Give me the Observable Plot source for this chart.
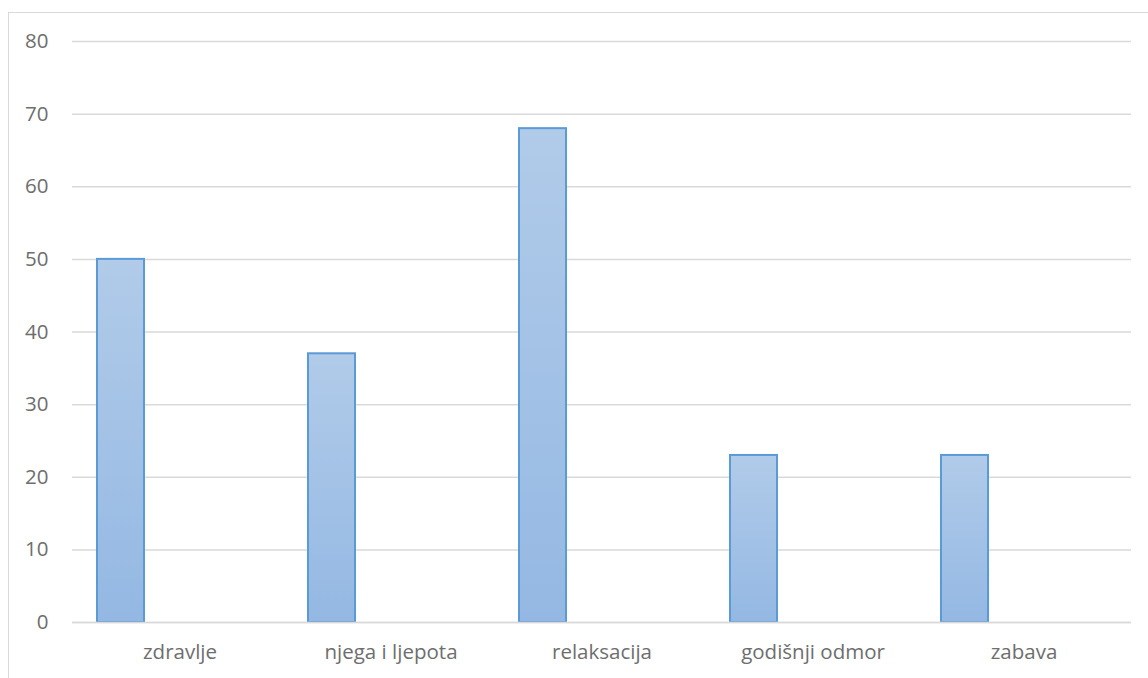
<!DOCTYPE html>
<html>
<head>
<meta charset="utf-8">
<script src="https://cdn.jsdelivr.net/npm/d3@7"></script>
<script src="https://cdn.jsdelivr.net/npm/@observablehq/plot@0.6"></script>
<style>
  html, body { margin: 0; padding: 0; background: #fff; }
  #wrap { position: relative; width: 1148px; height: 678px; overflow: hidden; }
  #frame { position: absolute; left: 8px; top: 12px; width: 1200px; height: 760px;
           border-left: 1.5px solid #d9d9d9; border-top: 1.5px solid #d9d9d9; }
  #chart { position: absolute; left: 0; top: 0; }
</style>
</head>
<body>
<div id="wrap"><div id="frame"></div><div id="chart"></div></div>
<script>
const categories = ["zdravlje", "njega i ljepota", "relaksacija", "godišnji odmor", "zabava"];
const values = [50, 37, 68, 23, 23];
const yTicks = [0, 10, 20, 30, 40, 50, 60, 70, 80];

const data = categories.map((c, i) => ({category: c, value: values[i]}));

const plot = Plot.plot({
  width: 1148,
  height: 678,
  marginTop: 41,
  marginBottom: 56,
  marginLeft: 72,
  marginRight: 17,
  style: {fontFamily: "'Open Sans', sans-serif", fontSize: "20.5px", color: "#6e6e6e", background: "transparent"},
  x: {domain: categories, padding: 0, label: null},
  y: {domain: [0, 80], label: null},
  marks: [
    Plot.ruleY(yTicks, {stroke: "#d9d9d9", strokeWidth: 1.5}),
    Plot.barY(data, {
      x: "category", y: "value",
      fill: "url(#barGrad)", stroke: "#5b9bd5", strokeWidth: 2,
      insetLeft: 23, insetRight: 141
    }),
    Plot.ruleY([0], {stroke: "#d9d9d9", strokeWidth: 1.5}),
    Plot.axisY({ticks: yTicks, tickSize: 0, tickPadding: 24, fill: "#6e6e6e", fontSize: 20.5, label: null}),
    Plot.axisX({tickSize: 0, tickPadding: 22, fill: "#6e6e6e", fontSize: 20.5, label: null})
  ]
});

const ns = "http://www.w3.org/2000/svg";
const defs = document.createElementNS(ns, "defs");
const grad = document.createElementNS(ns, "linearGradient");
grad.setAttribute("id", "barGrad");
grad.setAttribute("x1", "0"); grad.setAttribute("y1", "0");
grad.setAttribute("x2", "0"); grad.setAttribute("y2", "1");
[["0%", "#b1cbe9"], ["100%", "#94b8e3"]].forEach(([o, c]) => {
  const s = document.createElementNS(ns, "stop");
  s.setAttribute("offset", o); s.setAttribute("stop-color", c);
  grad.appendChild(s);
});
defs.appendChild(grad);
plot.insertBefore(defs, plot.firstChild);

document.getElementById("chart").appendChild(plot);
</script>
</body>
</html>
